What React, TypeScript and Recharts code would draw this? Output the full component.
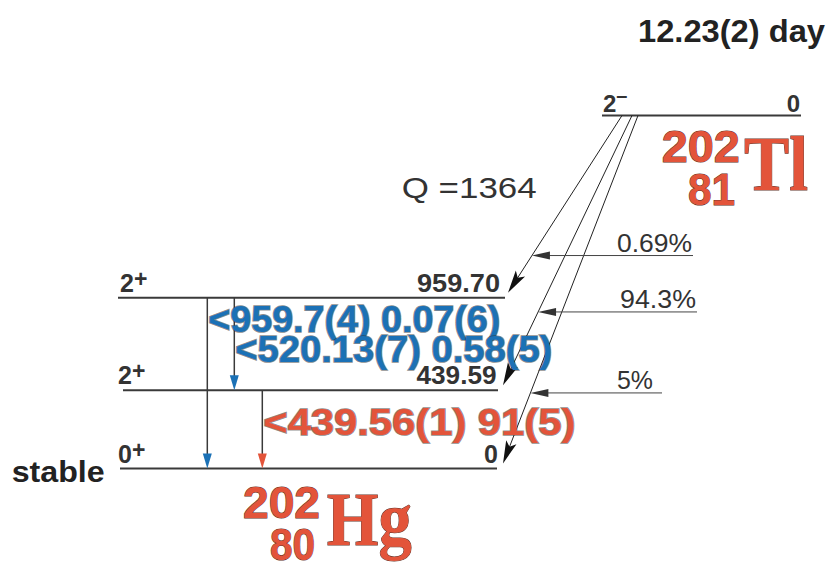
import React from 'react';
import { ComposedChart, Line, XAxis, YAxis, ReferenceLine, ReferenceDot } from 'recharts';

// ---------------- data ----------------
// 202Hg levels (keV)
const LEVEL_ENERGIES = [0, 439.59, 959.7];
const LEVEL_SPINS = ['0', '2', '2'];
const LEVEL_PARITIES = ['+', '+', '+'];
const LEVEL_LABELS = ['0', '439.59', '959.70'];

// 202Tl parent
const PARENT_ENERGY_LABEL = '0';
const PARENT_SPIN = '2';
const PARENT_PARITY = '–';
const HALF_LIFE = '12.23(2) day';
const Q_LABEL = 'Q =1364';

// gamma transitions
const GAMMA_ENERGIES = ['959.7(4)', '520.13(7)', '439.56(1)'];
const GAMMA_INTENSITIES = ['0.07(6)', '0.58(5)', '91(5)'];
const GAMMA_FROM = [2, 2, 1];
const GAMMA_TO = [0, 1, 0];

// EC branches
const BRANCH_TARGETS = [2, 1, 0];
const BRANCH_LABELS = ['0.69%', '94.3%', '5%'];

const PARENT_NUCLIDE = ['202', '81', 'Tl'];
const DAUGHTER_NUCLIDE = ['202', '80', 'Hg'];
const DAUGHTER_NOTE = 'stable';

// ---------------- layout ----------------
const W = 831;
const H = 565;
const GROUND_PX = 468.6;
const PX_PER_KEV = 0.178;
const Y_DOMAIN: [number, number] = [-(H - GROUND_PX) / PX_PER_KEV, GROUND_PX / PX_PER_KEV];
const px = (p: number) => p / PX_PER_KEV;
const PARENT_POS = px(GROUND_PX - 115.5); // parent level drawn not to scale

const LEVEL_X1 = [120, 123, 118];
const LEVEL_X2 = [497, 498, 505];
const PARENT_X = [602, 801];
const SPIN_DX = [-2, -5, 2];
const LABEL_DX = [1, -1.5, -5];
const LABEL_LEN = [0, 80, 83];

const GAMMA_X = [207.3, 234.3, 262.3];
const GAMMA_LABEL_DY = [34, 64, 44.6];
const GAMMA_LABEL_LEN = [292, 317, 312];

const BETA_START_X = [622, 632, 638];
const BETA_TIP_X = [508, 503, 503];
const BETA_TIP_LIFT = px(5);
const BRANCH_FRAC = [0.79, 0.728, 0.797];
const BRANCH_TAIL_X = [693, 697, 662];
const BRANCH_TEXT_X = [617, 620, 617];
const BRANCH_TEXT_LEN = [75, 76, 36];

const SANS = '"Liberation Sans", Arial, Helvetica, sans-serif';
const SERIF = '"Liberation Serif", "Times New Roman", serif';
const RED = '#e3543a';
const BLUE = '#1b71b6';
const INK = '#333333';
const LINE = '#3a3a3a';

function arrowShape(lineColor: string, lineWidth: number, headColor: string, len: number, half: number, notch = 0) {
  return (p: any) => {
    const { x1, y1, x2, y2 } = p;
    const dx = x2 - x1;
    const dy = y2 - y1;
    const L = Math.hypot(dx, dy) || 1;
    const ux = dx / L;
    const uy = dy / L;
    const nx = -uy;
    const ny = ux;
    const bx = x2 - ux * len;
    const by = y2 - uy * len;
    const mx = x2 - ux * (len - notch);
    const my = y2 - uy * (len - notch);
    const pts = notch
      ? [[x2, y2], [bx + nx * half, by + ny * half], [mx, my], [bx - nx * half, by - ny * half]]
      : [[x2, y2], [bx + nx * half, by + ny * half], [bx - nx * half, by - ny * half]];
    return (
      <g>
        <line x1={x1} y1={y1} x2={x2 - ux * len * 0.5} y2={y2 - uy * len * 0.5} stroke={lineColor} strokeWidth={lineWidth} />
        <polygon points={pts.map((q) => q.join(',')).join(' ')} fill={headColor} />
      </g>
    );
  };
}

function textDot(key: string, x: number, y: number, render: (cx: number, cy: number) => React.ReactNode) {
  return (
    <ReferenceDot
      key={key}
      x={x}
      y={y}
      r={0}
      ifOverflow="visible"
      shape={(p: any) => <g>{render(p.cx, p.cy)}</g>}
    />
  );
}

export default function App() {
  const levelSeries = LEVEL_ENERGIES.map((e, i) => [
    { x: LEVEL_X1[i], y: e },
    { x: LEVEL_X2[i], y: e },
  ]);
  const parentSeries = [
    { x: PARENT_X[0], y: PARENT_POS },
    { x: PARENT_X[1], y: PARENT_POS },
  ];

  const nuclideStyle = {
    fill: RED,
    stroke: '#5e3026',
    strokeWidth: 1,
    paintOrder: 'stroke' as const,
  };

  return (
    <>
      <style>{'html,body{margin:0;padding:0;overflow:hidden;background:#fff;}'}</style>
      <ComposedChart width={W} height={H} margin={{ top: 0, right: 0, bottom: 0, left: 0 }}>
        <XAxis type="number" dataKey="x" domain={[0, W]} allowDataOverflow hide />
        <YAxis type="number" dataKey="y" domain={Y_DOMAIN} allowDataOverflow hide />

        {levelSeries.map((d, i) => (
          <Line
            key={`lvl${i}`}
            data={d}
            dataKey="y"
            stroke={LINE}
            strokeWidth={2}
            dot={false}
            activeDot={false}
            isAnimationActive={false}
          />
        ))}
        <Line data={parentSeries} dataKey="y" stroke={LINE} strokeWidth={2} dot={false} activeDot={false} isAnimationActive={false} />

        {/* gamma transitions */}
        {GAMMA_ENERGIES.map((g, i) => (
          <ReferenceLine
            key={`g${i}`}
            ifOverflow="visible"
            segment={[
              { x: GAMMA_X[i], y: LEVEL_ENERGIES[GAMMA_FROM[i]] },
              { x: GAMMA_X[i], y: LEVEL_ENERGIES[GAMMA_TO[i]] },
            ]}
            shape={arrowShape(LINE, 1.5, i < 2 ? BLUE : RED, 15, 4.5)}
          />
        ))}

        {/* EC feeding lines */}
        {BRANCH_TARGETS.map((t, i) => (
          <ReferenceLine
            key={`b${i}`}
            ifOverflow="visible"
            segment={[
              { x: BETA_START_X[i], y: PARENT_POS },
              { x: BETA_TIP_X[i], y: LEVEL_ENERGIES[t] + BETA_TIP_LIFT },
            ]}
            shape={arrowShape('#222', 1, '#111', 23, 5.5, 5)}
          />
        ))}

        {/* branching arrows */}
        {BRANCH_TARGETS.map((t, i) => {
          const tipY = LEVEL_ENERGIES[t] + BETA_TIP_LIFT;
          const yb = PARENT_POS + BRANCH_FRAC[i] * (tipY - PARENT_POS);
          const xb = BETA_START_X[i] + BRANCH_FRAC[i] * (BETA_TIP_X[i] - BETA_START_X[i]);
          return (
            <ReferenceLine
              key={`br${i}`}
              ifOverflow="visible"
              segment={[
                { x: BRANCH_TAIL_X[i], y: yb },
                { x: xb, y: yb },
              ]}
              shape={arrowShape('#444', 1, '#333', 18, 4)}
            />
          );
        })}
        {BRANCH_LABELS.map((b, i) => {
          const t = BRANCH_TARGETS[i];
          const tipY = LEVEL_ENERGIES[t] + BETA_TIP_LIFT;
          const yb = PARENT_POS + BRANCH_FRAC[i] * (tipY - PARENT_POS);
          return textDot(`brl${i}`, BRANCH_TEXT_X[i], yb, (cx, cy) => (
            <text x={cx} y={cy - 4} fontFamily={SANS} fontSize={26} fill={INK} textLength={BRANCH_TEXT_LEN[i]} lengthAdjust="spacingAndGlyphs">
              {b}
            </text>
          ));
        })}

        {/* level labels */}
        {LEVEL_ENERGIES.map((e, i) =>
          textDot(`sp${i}`, LEVEL_X1[i], e, (cx, cy) => (
            <text x={cx + SPIN_DX[i]} y={cy - 6} fontFamily={SANS} fontWeight="bold" fontSize={25} fill={INK}>
              {LEVEL_SPINS[i]}
              <tspan fontSize={23} dy={-5}>{LEVEL_PARITIES[i]}</tspan>
            </text>
          ))
        )}
        {LEVEL_ENERGIES.map((e, i) =>
          textDot(`el${i}`, LEVEL_X2[i], e, (cx, cy) => (
            <text
              x={cx + LABEL_DX[i]}
              y={cy - 6}
              textAnchor="end"
              fontFamily={SANS}
              fontWeight="bold"
              fontSize={25}
              fill={INK}
              {...(LABEL_LEN[i] ? { textLength: LABEL_LEN[i], lengthAdjust: 'spacingAndGlyphs' } : {})}
            >
              {LEVEL_LABELS[i]}
            </text>
          ))
        )}

        {/* gamma labels */}
        {GAMMA_ENERGIES.map((g, i) =>
          textDot(`gl${i}`, GAMMA_X[i], LEVEL_ENERGIES[GAMMA_FROM[i]], (cx, cy) => (
            <text
              x={cx + 1}
              y={cy + GAMMA_LABEL_DY[i]}
              fontFamily={SANS}
              fontWeight="bold"
              fontSize={36}
              fill={i < 2 ? BLUE : RED}
              stroke="#2b2b2b"
              strokeWidth={1.6}
              strokeOpacity={0.55}
              paintOrder="stroke"
              textLength={GAMMA_LABEL_LEN[i]}
              lengthAdjust="spacingAndGlyphs"
            >
              {`<${g} ${GAMMA_INTENSITIES[i]}`}
            </text>
          ))
        )}

        {/* parent labels */}
        {textDot('pspin', PARENT_X[0], PARENT_POS, (cx, cy) => (
          <text x={cx + 1} y={cy - 4} fontFamily={SANS} fontWeight="bold" fontSize={24} fill={INK}>
            {PARENT_SPIN}
            <tspan fontSize={20} dy={-10}>{PARENT_PARITY}</tspan>
          </text>
        ))}
        {textDot('pen', PARENT_X[1], PARENT_POS, (cx, cy) => (
          <text x={cx - 1} y={cy - 4} textAnchor="end" fontFamily={SANS} fontWeight="bold" fontSize={24} fill={INK}>
            {PARENT_ENERGY_LABEL}
          </text>
        ))}
        {textDot('hl', PARENT_X[1], PARENT_POS, (cx, cy) => (
          <text x={cx - 163} y={cy - 73.5} fontFamily={SANS} fontWeight="bold" fontSize={31} fill="#222" textLength={187} lengthAdjust="spacingAndGlyphs">
            {HALF_LIFE}
          </text>
        ))}
        {textDot('q', PARENT_X[0], PARENT_POS, (cx, cy) => (
          <text x={cx - 200.3} y={cy + 82.8} fontFamily={SANS} fontSize={29} fill={INK} textLength={135} lengthAdjust="spacingAndGlyphs">
            {Q_LABEL}
          </text>
        ))}
        {textDot('tl', PARENT_X[1], PARENT_POS, (cx, cy) => (
          <g {...nuclideStyle}>
            <text x={cx - 139.3} y={cy + 46.2} fontFamily={SANS} fontWeight="bold" fontSize={45} textLength={78} lengthAdjust="spacingAndGlyphs">
              {PARENT_NUCLIDE[0]}
            </text>
            <text x={cx - 113} y={cy + 89.5} fontFamily={SANS} fontWeight="bold" fontSize={45} textLength={47} lengthAdjust="spacingAndGlyphs">
              {PARENT_NUCLIDE[1]}
            </text>
            <text x={cx - 57} y={cy + 74.5} fontFamily={SERIF} fontWeight="bold" fontSize={79} textLength={64} lengthAdjust="spacingAndGlyphs">
              {PARENT_NUCLIDE[2]}
            </text>
          </g>
        ))}

        {/* daughter labels */}
        {textDot('stable', LEVEL_X1[0], LEVEL_ENERGIES[0], (cx, cy) => (
          <text x={cx - 108.3} y={cy + 13.1} fontFamily={SANS} fontWeight="bold" fontSize={30} fill="#222" textLength={93} lengthAdjust="spacingAndGlyphs">
            {DAUGHTER_NOTE}
          </text>
        ))}
        {textDot('hg', LEVEL_X1[0], LEVEL_ENERGIES[0], (cx, cy) => (
          <g {...nuclideStyle}>
            <text x={cx + 123} y={cy + 49.4} fontFamily={SANS} fontWeight="bold" fontSize={45} textLength={77} lengthAdjust="spacingAndGlyphs">
              {DAUGHTER_NUCLIDE[0]}
            </text>
            <text x={cx + 150} y={cy + 91.4} fontFamily={SANS} fontWeight="bold" fontSize={45} textLength={45} lengthAdjust="spacingAndGlyphs">
              {DAUGHTER_NUCLIDE[1]}
            </text>
            <text x={cx + 206.7} y={cy + 76.4} fontFamily={SERIF} fontWeight="bold" fontSize={76} textLength={85} lengthAdjust="spacingAndGlyphs">
              {DAUGHTER_NUCLIDE[2]}
            </text>
          </g>
        ))}
      </ComposedChart>
    </>
  );
}
